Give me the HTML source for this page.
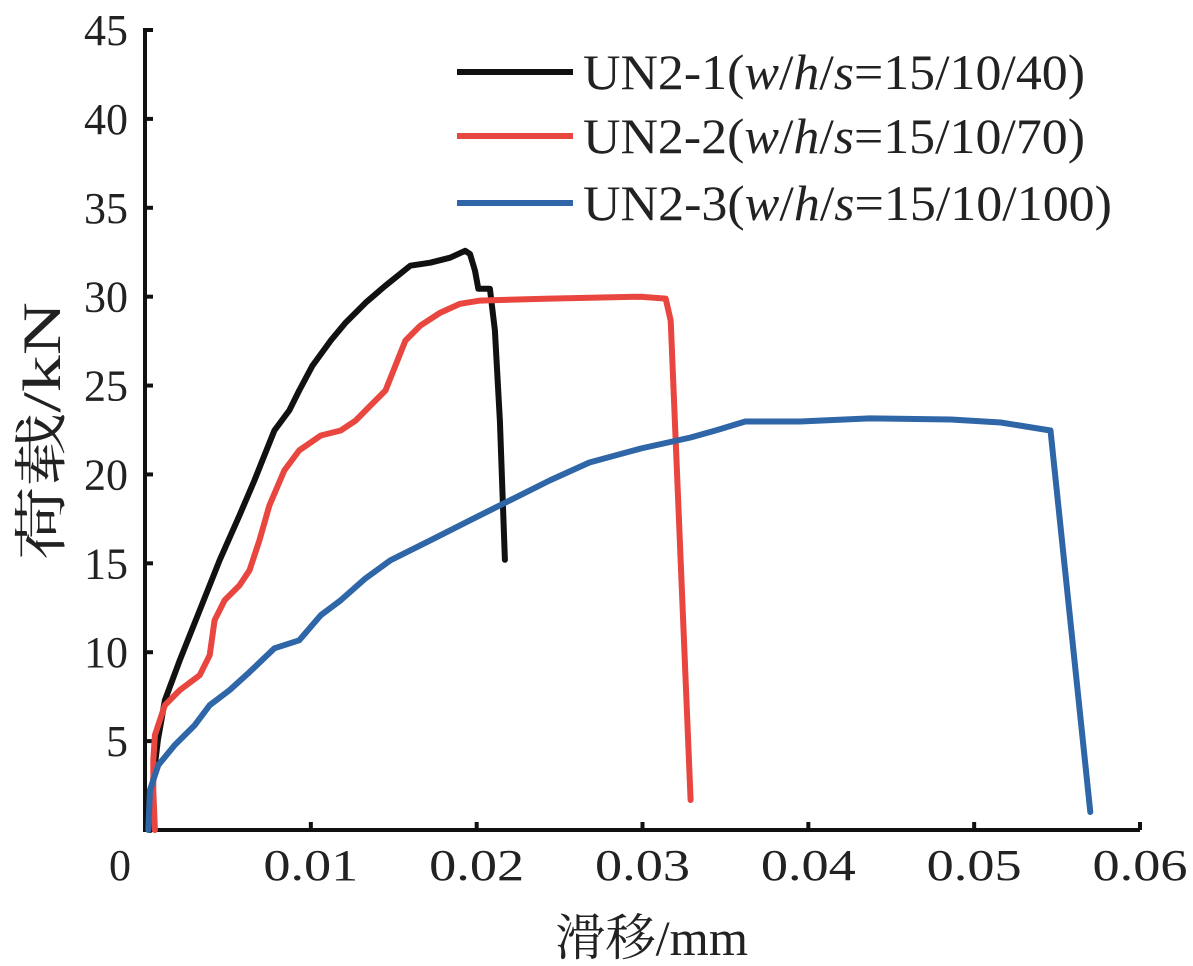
<!DOCTYPE html>
<html><head><meta charset="utf-8">
<style>
html,body{margin:0;padding:0;background:#fff;}
svg{display:block;}
text{font-family:"Liberation Serif","Noto Serif CJK SC",serif;fill:#222;}
</style></head>
<body>
<svg id="chart" width="1193" height="966" viewBox="0 0 1193 966">
<g id="axes"></g>
<g id="series"></g>
<g id="legend"></g>
<text x="555" y="955" font-size="50" textLength="193" lengthAdjust="spacingAndGlyphs">滑移/mm</text>
<text transform="translate(60,560) rotate(-90)" font-size="54" textLength="258" lengthAdjust="spacingAndGlyphs">荷载/kN</text>
</svg>
<script>
const xTicks=[0,0.01,0.02,0.03,0.04,0.05,0.06];
const xTickLabels=["0","0.01","0.02","0.03","0.04","0.05","0.06"];
const yTicks=[5,10,15,20,25,30,35,40,45];
const yTickLabels=["5","10","15","20","25","30","35","40","45"];
const un21X=[0.0003,0.00042,0.00078,0.0012,0.0021,0.0033,0.0045,0.0057,0.0066,0.0072,0.0078,0.0087,0.0093,0.0101,0.0112,0.0121,0.0133,0.0145,0.016,0.0172,0.0184,0.0193,0.0196,0.0199,0.0201,0.0208,0.0211,0.0214,0.0217];
const un21Y=[0,2.25,5.06,7.3,9.55,12.36,15.17,17.7,19.66,21.07,22.47,23.6,24.72,26.12,27.53,28.54,29.66,30.62,31.74,31.91,32.19,32.58,32.4,31.46,30.45,30.45,28.1,23.0,15.2];
const un22X=[0.0006,0.0005,0.0005,0.0006,0.0012,0.0021,0.0033,0.0039,0.0042,0.0048,0.0057,0.0063,0.0069,0.0075,0.0084,0.0093,0.0106,0.0118,0.0127,0.0136,0.0145,0.0151,0.0157,0.0166,0.0178,0.019,0.0202,0.0244,0.0299,0.0314,0.0317,0.0329];
const un22Y=[0,2.25,3.93,5.34,7.02,7.87,8.71,9.83,11.8,12.92,13.76,14.61,16.29,18.26,20.22,21.35,22.19,22.47,23.03,23.88,24.72,26.12,27.53,28.37,29.1,29.6,29.78,29.89,30,29.89,28.65,1.69];
const un23X=[0.0002,0.0003,0.0008,0.0018,0.003,0.0039,0.0051,0.0063,0.0078,0.0093,0.0106,0.0118,0.0133,0.0148,0.0172,0.0196,0.022,0.0244,0.0268,0.0299,0.0329,0.0344,0.0362,0.0395,0.0437,0.0486,0.0516,0.0546,0.057];
const un23Y=[0,2.25,3.65,4.78,5.9,7.02,7.87,8.88,10.22,10.67,12.08,12.92,14.16,15.17,16.29,17.42,18.54,19.66,20.67,21.46,22.08,22.47,22.98,22.98,23.15,23.09,22.92,22.47,1.01];
const seriesNames=["UN2-1","UN2-2","UN2-3"];
const seriesParams=["15/10/40","15/10/70","15/10/100"];
const colors=["#111111","#e8463f","#2f66a8"];

const NS="http://www.w3.org/2000/svg";
const X0=145,X1=1140,Y0=830,Y1=30;
function sx(v){return X0+(v-0)/(0.06)*(X1-X0);}
function sy(v){return Y0-(v/45)*(Y0-Y1);}
function mk(tag,attrs,parent){const e=document.createElementNS(NS,tag);for(const k in attrs)e.setAttribute(k,attrs[k]);parent.appendChild(e);return e;}
const axes=document.getElementById('axes');
let a=mk('line',{x1:X0,y1:Y0,x2:X1,y2:Y0,stroke:'#111','stroke-width':4},axes);


a=mk('line',{x1:X0,y1:Y0+2,x2:X0,y2:Y1-2,stroke:'#111','stroke-width':4},axes);


xTicks.forEach((v,i)=>{
  if(v>0){const t=mk('line',{x1:sx(v),y1:Y0,x2:sx(v),y2:Y0-8,stroke:'#111','stroke-width':4},axes);
  
  }
  const l=mk('text',{x:v===0?sx(v)-25:sx(v),y:Y0+50,'font-size':44,'text-anchor':'middle'},axes);
  if(v>0){l.setAttribute('textLength',95);l.setAttribute('lengthAdjust','spacingAndGlyphs');}
  l.textContent=xTickLabels[i];
  
  
});
yTicks.forEach((v,i)=>{
  const t=mk('line',{x1:X0,y1:sy(v),x2:X0+8,y2:sy(v),stroke:'#111','stroke-width':4},axes);
  
  
  const l=mk('text',{x:128,y:sy(v)+15,'font-size':44,'text-anchor':'end'},axes);
  l.textContent=yTickLabels[i];
  
  
});
const ser=document.getElementById('series');
[[un21X,un21Y],[un22X,un22Y],[un23X,un23Y]].forEach((d,k)=>{
  const pts=d[0].map((x,i)=>sx(x).toFixed(1)+','+sy(d[1][i]).toFixed(1)).join(' ');
  const p=mk('polyline',{points:pts,fill:'none',stroke:colors[k],'stroke-width':6,'stroke-linejoin':'round','stroke-linecap':'round'},ser);
  
  
});
const leg=document.getElementById('legend');
const legY=[72,136,203];
const legLen=[502,502,529];
seriesNames.forEach((n,k)=>{
  const g=mk('g',{},leg);
  
  
  mk('line',{x1:457,y1:legY[k],x2:573,y2:legY[k],stroke:colors[k],'stroke-width':6},g);
  const t=mk('text',{x:583,y:legY[k]+17,'font-size':50,textLength:legLen[k],lengthAdjust:'spacingAndGlyphs'},g);
  t.innerHTML=n+'(<tspan font-style="italic">w</tspan>/<tspan font-style="italic">h</tspan>/<tspan font-style="italic">s</tspan>='+seriesParams[k]+')';
});
</script>
</body></html>
